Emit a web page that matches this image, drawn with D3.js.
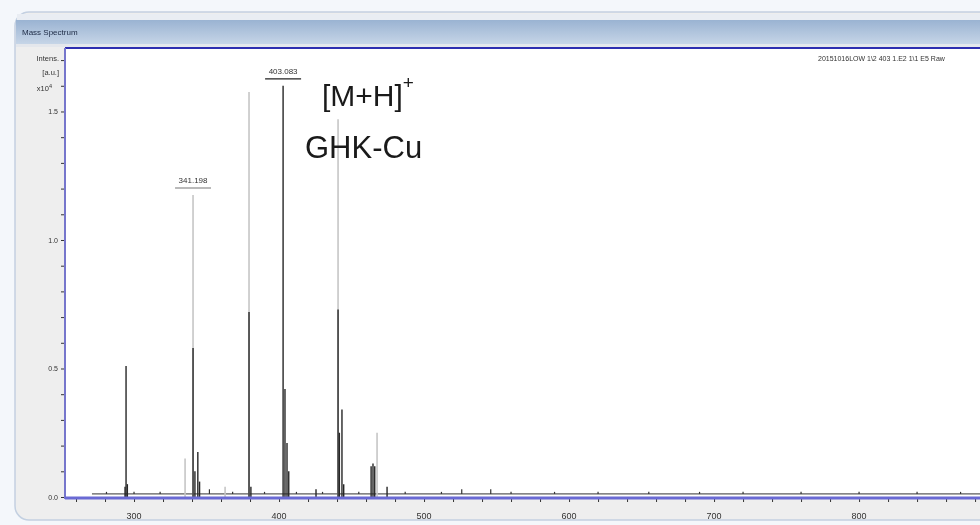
<!DOCTYPE html>
<html>
<head>
<meta charset="utf-8">
<script src="https://cdn.jsdelivr.net/npm/d3@7"></script>
<style>
  html, body { margin:0; padding:0; background:#f4f7fb; }
  svg { display:block; font-family: Arial, "Liberation Sans", sans-serif; filter: blur(0.45px); }
</style>
</head>
<body>
<div id="chart"></div>
<script>
// peaks of the dark trace [m/z, intensity x10^4]
var darkMz  = [293.8, 294.5, 295.4, 340.7, 342.0, 344.0, 345.2, 379.3, 380.6, 402.8, 404.1, 405.5, 406.7, 425.5, 440.7, 441.6, 443.4, 444.6, 463.5, 464.8, 466.0, 474.5];
var darkVal = [0.04, 0.51, 0.05, 0.58, 0.10, 0.175, 0.06, 0.72, 0.04, 1.60, 0.42, 0.21, 0.10, 0.03, 0.73, 0.25, 0.34, 0.05, 0.12, 0.13, 0.12, 0.04];
// peaks of the light trace
var lightMz  = [335.2, 340.7, 362.8, 379.3, 440.7, 467.6];
var lightVal = [0.15, 1.175, 0.04, 1.576, 1.47, 0.25];
// small baseline noise
var noiseMz  = [281, 300, 318, 352, 368, 390, 412, 430, 455, 487, 512, 526, 546, 560, 590, 620, 655, 690, 720, 760, 800, 840, 870];
var noiseVal = [0.02, 0.02, 0.02, 0.03, 0.02, 0.02, 0.02, 0.02, 0.02, 0.02, 0.02, 0.03, 0.03, 0.02, 0.02, 0.02, 0.02, 0.02, 0.02, 0.02, 0.02, 0.02, 0.02];
var baseLevel = 0.012;
var baseFrom = 271, baseTo = 890;

var xTickLabels = [300, 400, 500, 600, 700, 800];
var yTickLabels = ["0.0", "0.5", "1.0", "1.5"];

var peakLabels = [{mz: 340.7, val: 1.175, text: "341.198", col: "#777"},
                  {mz: 402.8, val: 1.60, text: "403.083", col: "#222"}];

var W = 980, H = 525;
var pLeft = 65, pTop = 48, pBottom = 497, pRight = 1000;

var svg = d3.select("#chart").append("svg").attr("width", W).attr("height", H);
var defs = svg.append("defs");

var grad = defs.append("linearGradient").attr("id", "tbar").attr("x1", 0).attr("x2", 0).attr("y1", 0).attr("y2", 1);
grad.append("stop").attr("offset", "0%").attr("stop-color", "#9ab3d2");
grad.append("stop").attr("offset", "100%").attr("stop-color", "#c6d5e7");

defs.append("clipPath").attr("id", "plotclip").append("rect")
    .attr("x", pLeft).attr("y", pTop).attr("width", pRight - pLeft).attr("height", pBottom - pTop);

// window frame
svg.append("rect").attr("width", W).attr("height", H).attr("fill", "#f4f7fb");
svg.append("rect").attr("x", 15).attr("y", 12).attr("width", 1000).attr("height", 508).attr("rx", 14)
    .attr("fill", "#eeeeee").attr("stroke", "#c3d0e1").attr("stroke-width", 1.5);
svg.append("rect").attr("x", 17).attr("y", 14).attr("width", 1000).attr("height", 6).attr("fill", "#e9edf3");
svg.append("rect").attr("x", 16).attr("y", 20).attr("width", 1000).attr("height", 24).attr("fill", "url(#tbar)");
svg.append("rect").attr("x", 16).attr("y", 44).attr("width", 1000).attr("height", 3).attr("fill", "#e4e7ec");
svg.append("text").attr("x", 22).attr("y", 35).attr("font-size", 8).attr("fill", "#1d2a44").text("Mass Spectrum");

// plot area
svg.append("rect").attr("x", pLeft).attr("y", pTop).attr("width", pRight - pLeft).attr("height", pBottom - pTop).attr("fill", "#fff");

var x = d3.scaleLinear().domain([252.4, 883.4]).range([pLeft, 980]);
var y = d3.scaleLinear().domain([0, 1.747]).range([pBottom, pTop]);

var plot = svg.append("g").attr("clip-path", "url(#plotclip)");

// baseline
plot.append("line").attr("x1", x(baseFrom)).attr("x2", x(baseTo))
    .attr("y1", y(baseLevel)).attr("y2", y(baseLevel))
    .attr("stroke", "#333").attr("stroke-width", 1);
plot.selectAll(".noise").data(d3.zip(noiseMz, noiseVal)).enter().append("line")
    .attr("x1", function(d){ return x(d[0]); }).attr("x2", function(d){ return x(d[0]); })
    .attr("y1", y(baseLevel)).attr("y2", function(d){ return y(d[1]); })
    .attr("stroke", "#333").attr("stroke-width", 1.2);

// light trace
plot.selectAll(".light").data(d3.zip(lightMz, lightVal)).enter().append("line")
    .attr("x1", function(d){ return x(d[0]); }).attr("x2", function(d){ return x(d[0]); })
    .attr("y1", y(0)).attr("y2", function(d){ return y(d[1]); })
    .attr("stroke", "#c6c6c6").attr("stroke-width", 1.6);

// dark trace
plot.selectAll(".dark").data(d3.zip(darkMz, darkVal)).enter().append("line")
    .attr("x1", function(d){ return x(d[0]); }).attr("x2", function(d){ return x(d[0]); })
    .attr("y1", y(0)).attr("y2", function(d){ return y(d[1]); })
    .attr("stroke", "#262626").attr("stroke-width", 1.4);

// peak labels
peakLabels.forEach(function(p){
    var px = x(p.mz), py = y(p.val);
    svg.append("line").attr("x1", px - 18).attr("x2", px + 18).attr("y1", py - 7).attr("y2", py - 7)
        .attr("stroke", p.col).attr("stroke-width", 1.2);
    svg.append("text").attr("x", px).attr("y", py - 12).attr("text-anchor", "middle")
        .attr("font-size", 8).attr("fill", "#333").text(p.text);
});

// annotation
var ann = svg.append("text").attr("x", 322).attr("y", 106).attr("font-size", 30).attr("fill", "#1a1a1a");
ann.append("tspan").text("[M+H]");
ann.append("tspan").attr("dy", -17).attr("font-size", 19).text("+");
svg.append("text").attr("x", 305).attr("y", 158).attr("font-size", 31).attr("fill", "#1a1a1a").text("GHK-Cu");

svg.append("text").attr("x", 818).attr("y", 61).attr("font-size", 7).attr("fill", "#333")
    .text("20151016LOW 1\\2 403 1.E2 1\\1 E5 Raw");

// axes
var xAxis = d3.axisBottom(x).tickValues(d3.range(260, 900, 20)).tickSize(4).tickFormat("");
var gx = svg.append("g").attr("transform", "translate(0," + (pBottom + 1) + ")").call(xAxis);
gx.select(".domain").remove();
gx.selectAll("line").attr("stroke", "#333");
svg.selectAll(".xlab").data(xTickLabels).enter().append("text")
    .attr("x", function(d){ return x(d); }).attr("y", 519).attr("text-anchor", "middle")
    .attr("font-size", 9).attr("fill", "#333").text(function(d){ return d; });

var yAxis = d3.axisLeft(y).tickValues(d3.range(0, 17.5, 1).map(function(v){ return v / 10; })).tickSize(3).tickFormat("");
var gy = svg.append("g").attr("transform", "translate(" + (pLeft - 1) + ",0)").call(yAxis);
gy.select(".domain").remove();
gy.selectAll("line").attr("stroke", "#333");
svg.selectAll(".ylab").data(yTickLabels).enter().append("text")
    .attr("x", 58).attr("y", function(d){ return y(+d) + 3; }).attr("text-anchor", "end")
    .attr("font-size", 7).attr("fill", "#333").text(function(d){ return d; });

svg.append("text").attr("x", 59).attr("y", 61).attr("text-anchor", "end").attr("font-size", 7.5).attr("fill", "#333").text("Intens.");
svg.append("text").attr("x", 59).attr("y", 75).attr("text-anchor", "end").attr("font-size", 7.5).attr("fill", "#333").text("[a.u.]");
var xt = svg.append("text").attr("x", 52).attr("y", 91).attr("text-anchor", "end").attr("font-size", 7.5).attr("fill", "#333");
xt.append("tspan").text("x10");
xt.append("tspan").attr("dy", -3).attr("font-size", 5.5).text("4");

// plot borders
svg.append("line").attr("x1", pLeft).attr("x2", pRight).attr("y1", pTop).attr("y2", pTop).attr("stroke", "#2e2eb0").attr("stroke-width", 2);
svg.append("line").attr("x1", pLeft).attr("x2", pLeft).attr("y1", pTop).attr("y2", pBottom + 2).attr("stroke", "#7676cc").attr("stroke-width", 2);
svg.append("line").attr("x1", pLeft).attr("x2", pRight).attr("y1", pBottom + 1).attr("y2", pBottom + 1).attr("stroke", "#6a6ad4").attr("stroke-width", 3);
</script>
</body>
</html>
